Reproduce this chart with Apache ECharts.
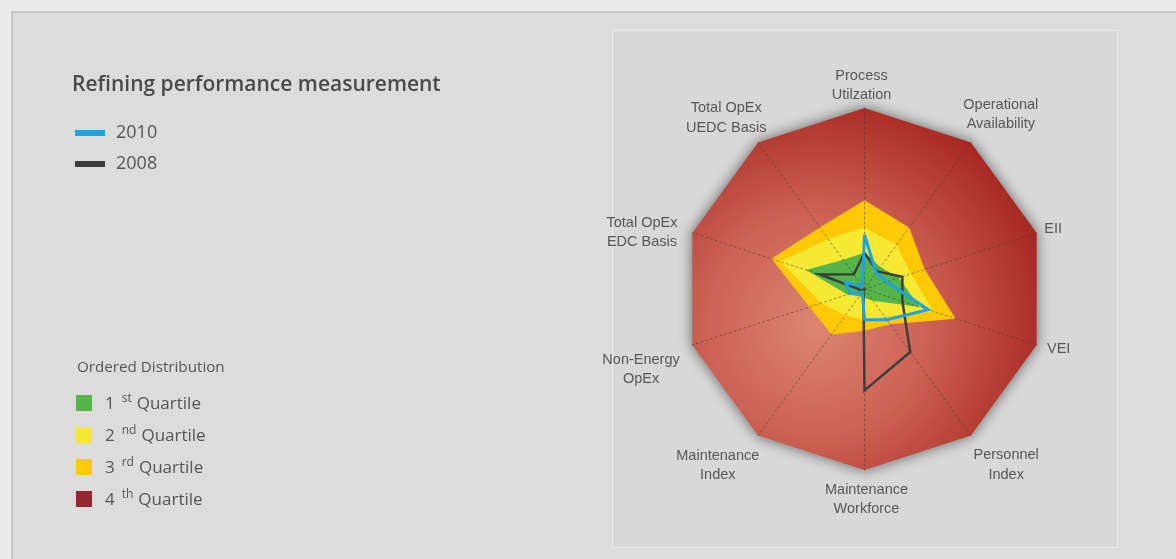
<!DOCTYPE html>
<html>
<head>
<meta charset="utf-8">
<script src="https://cdn.jsdelivr.net/npm/echarts@6/dist/echarts.min.js"></script>
<style>
  html, body { margin: 0; padding: 0; background: #ebebeb; }
  #chart { width: 1176px; height: 559px; }
</style>
</head>
<body>
<div id="chart"></div>
<script>
// ---- data (indicators listed clockwise, starting at the top) ----
const indicators = [
  'Process\nUtilzation', 'Operational\nAvailability', 'EII', 'VEI',
  'Personnel\nIndex', 'Maintenance\nWorkforce', 'Maintenance\nIndex',
  'Non-Energy\nOpEx', 'Total OpEx\nEDC Basis', 'Total OpEx\nUEDC Basis'
];
const axisMax = 100;
const values2010 = [30, 11, 13, 37, 21, 17, 2, 8, 11, 2];
const values2008 = [20, 12, 22, 22, 43, 56, 1, 2, 26, 10];
const quartile1 = [20, 15, 20, 32, 8, 5, 5, 10, 34, 20];
const quartile2 = [34, 30, 27, 40, 19, 17, 18, 25, 49, 34];
const quartile3 = [49, 42, 35, 53, 24, 23, 31, 32, 54, 42];
const quartile4 = [100, 100, 100, 100, 100, 100, 100, 100, 100, 100];
const lineSeriesNames = ['2010', '2008'];
const quartileNames = ['1st Quartile', '2nd Quartile', '3rd Quartile', '4th Quartile'];
const chartTitle = 'Refining performance measurement';
const distributionTitle = 'Ordered Distribution';

// ---- layout / style ----
const CX = 864.5, CY = 289, R = 181;
const LABEL_FONT_SIZE = 14.5, LABEL_LH = 19.5, LABEL_GAP = 8;
const LABEL_FAMILY = '"Liberation Sans", Arial, sans-serif';
const UI_FAMILY = '"Open Sans", "Liberation Sans", sans-serif';
// small per-label placement adjustments (px), clockwise from the top label
const labelNudge = [[-3, 5], [3, 9], [-2, 2], [1, -3], [10, -5], [2, 2], [-12, -9], [-3, 9], [-5, 14], [-4, 14]];
const COLORS = {
  blue: '#1ba4e0', dark: '#3d3d3d',
  q1: '#55b44a', q2: '#f6e934', q3: '#fdc907', q4: '#96262f'
};

// ECharts places radar indicators counter-clockwise; reorder clockwise lists
const ccw = arr => [arr[0]].concat(arr.slice(1).reverse());

// indicator label positions computed from the radar geometry
const measureCtx = document.createElement('canvas').getContext('2d');
measureCtx.font = LABEL_FONT_SIZE + 'px ' + LABEL_FAMILY;
const labelGraphics = indicators.map((name, k) => {
  const th = k * 2 * Math.PI / indicators.length;
  const s = Math.sin(th), c = Math.cos(th);
  const lines = name.split('\n');
  const w = Math.max.apply(null, lines.map(l => measureCtx.measureText(l).width));
  const h = lines.length * LABEL_LH / 2;
  const d = R + LABEL_GAP + Math.abs(s) * w / 2 + Math.abs(c) * h;
  return {
    type: 'text', x: CX + d * s + labelNudge[k][0], y: CY - d * c + labelNudge[k][1], z: 20, silent: true,
    style: {
      text: name, fill: '#575757', align: 'center', verticalAlign: 'middle',
      font: LABEL_FONT_SIZE + 'px ' + LABEL_FAMILY, lineHeight: LABEL_LH
    }
  };
});

const redGradient = new echarts.graphic.RadialGradient(0.36, 0.6, 0.72, [
  { offset: 0, color: '#dc8573' },
  { offset: 0.45, color: '#cc6253' },
  { offset: 1, color: '#a4231d' }
]);

function quartileSeries(name, values, color, areaColor, extraArea) {
  return {
    type: 'radar', name: name, z: 2, silent: true, symbol: 'none',
    itemStyle: { color: color },
    lineStyle: { width: 0, opacity: 0 },
    areaStyle: Object.assign({ color: areaColor, opacity: 1 }, extraArea || {}),
    data: [{ value: ccw(values), name: name }]
  };
}

function lineSeries(name, values, color, width) {
  return {
    type: 'radar', name: name, z: 5, silent: true, symbol: 'none',
    itemStyle: { color: color },
    lineStyle: { color: color, width: width, join: 'miter' },
    data: [{ value: ccw(values), name: name }]
  };
}

const chart = echarts.init(document.getElementById('chart'));
chart.setOption({
  backgroundColor: '#ebebeb',
  animation: false,
  title: {
    text: chartTitle, left: 72, top: 75, padding: 0,
    textStyle: { fontFamily: UI_FAMILY, fontWeight: 600, fontSize: 21, color: '#4a4a4a' }
  },
  legend: [
    {
      data: lineSeriesNames.map((n, i) => ({ name: n, itemStyle: { color: i === 0 ? COLORS.blue : COLORS.dark } })),
      orient: 'vertical', left: 75, top: 124, padding: 0,
      itemWidth: 30, itemHeight: 6, itemGap: 13, icon: 'rect', selectedMode: false,
      itemStyle: { borderWidth: 0 },
      formatter: n => '{a|' + n + '}',
      textStyle: { rich: { a: { fontFamily: UI_FAMILY, fontSize: 18, color: '#555', lineHeight: 20, padding: [0, 0, 0, 6] } } }
    },
    {
      data: quartileNames.map((n, i) => ({ name: n, itemStyle: { color: [COLORS.q1, COLORS.q2, COLORS.q3, COLORS.q4][i] } })),
      orient: 'vertical', left: 76, top: 393, padding: 0,
      itemWidth: 16, itemHeight: 16, itemGap: 10, icon: 'rect', selectedMode: false,
      itemStyle: { borderWidth: 0 },
      formatter: n => {
        const m = n.match(/^(\d)(\w+) (.*)$/);
        return '{n|' + m[1] + '}{sup|' + m[2] + '}{t|' + m[3] + '}';
      },
      textStyle: {
        rich: {
          n: { fontFamily: UI_FAMILY, fontSize: 17, color: '#555', lineHeight: 20, verticalAlign: 'bottom', padding: [0, 7, 0, 8] },
          sup: { fontFamily: UI_FAMILY, fontSize: 12, color: '#555', lineHeight: 14, verticalAlign: 'top', padding: [0, 5, 10, 0] },
          t: { fontFamily: UI_FAMILY, fontSize: 17, color: '#555', lineHeight: 20, verticalAlign: 'bottom' }
        }
      }
    }
  ],
  radar: {
    center: [CX, CY], radius: R, startAngle: 90, shape: 'polygon', splitNumber: 1, z: 3,
    indicator: ccw(indicators).map(n => ({ name: n, min: 0, max: axisMax })),
    axisName: { show: false },
    axisLine: { lineStyle: { color: 'rgba(60,60,60,0.55)', width: 1, type: [2, 3] } },
    splitLine: { show: false },
    splitArea: { show: false }
  },
  graphic: [
    { type: 'rect', z: -10, silent: true, shape: { x: 12, y: 12, width: 1200, height: 600 },
      style: { fill: '#dcdcdc', stroke: '#c6c6c6', lineWidth: 2 } },
    { type: 'rect', z: -9, silent: true, shape: { x: 612.5, y: 30.5, width: 505, height: 517 },
      style: { fill: 'rgba(0,0,0,0.015)', stroke: '#e9e9e9', lineWidth: 1 } },
    { type: 'text', x: 77, y: 368, z: 20, silent: true,
      style: { text: distributionTitle, fill: '#555', font: '15.2px ' + UI_FAMILY, verticalAlign: 'middle' } }
  ].concat(labelGraphics),
  series: [
    quartileSeries(quartileNames[3], quartile4, COLORS.q4, redGradient,
      { shadowBlur: 14, shadowColor: 'rgba(0,0,0,0.55)' }),
    quartileSeries(quartileNames[2], quartile3, COLORS.q3, COLORS.q3),
    quartileSeries(quartileNames[1], quartile2, COLORS.q2, COLORS.q2),
    quartileSeries(quartileNames[0], quartile1, COLORS.q1, COLORS.q1),
    lineSeries(lineSeriesNames[1], values2008, COLORS.dark, 2.5),
    lineSeries(lineSeriesNames[0], values2010, COLORS.blue, 3)
  ]
});
</script>
</body>
</html>
